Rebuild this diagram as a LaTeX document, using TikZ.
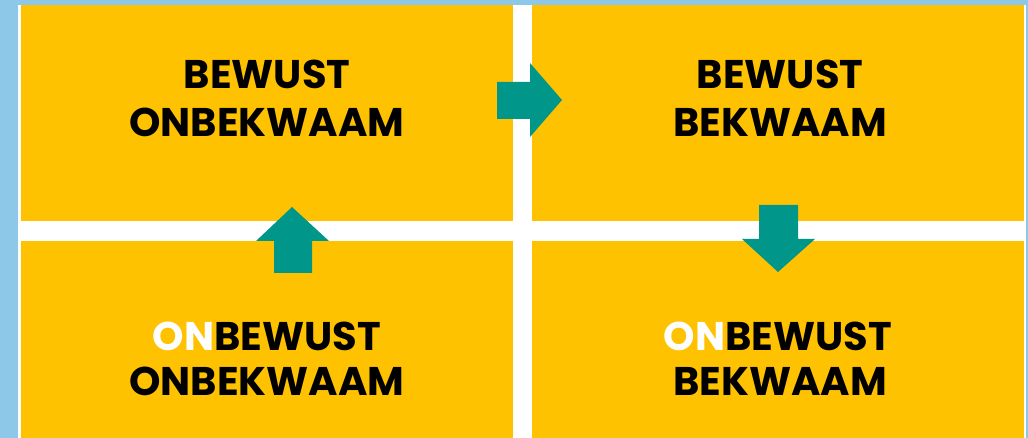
\documentclass[tikz,border=0pt]{standalone}
\usepackage{fontspec}
\setmainfont{Poppins}[BoldFont=* Bold]
\definecolor{bgblue}{HTML}{8DC8E8}
\definecolor{panelyellow}{HTML}{FFC200}
\definecolor{arrowteal}{HTML}{00968A}
\tikzset{
  panel/.style={fill=panelyellow, draw=none},
  lbl/.style={anchor=base, inner sep=0pt, font=\fontsize{40}{40}\selectfont\bfseries, text=black},
  arr/.style={fill=arrowteal, draw=none}
}
\begin{document}
\begin{tikzpicture}[x=1pt,y=-1pt]
\fill[bgblue] (0,0) rectangle (1028,438);
\useasboundingbox (0,0) rectangle (1028,438);
\fill[white] (18,5) rectangle (1026,438);
% panels
\fill[panel] (20.5,5) rectangle (513,221) coordinate (tlc);
\fill[panel] (532,5) rectangle (1023.5,221);
\fill[panel] (20.5,241) rectangle (513,438);
\fill[panel] (532,241) rectangle (1023.5,438);
% texts
\node[lbl] (tl1) at (267,89) {BEWUST};
\node[lbl] (tl2) at (267,137) {ONBEKWAAM};
\node[lbl] (tr1) at (780,89) {BEWUST};
\node[lbl] (tr2) at (780,137) {BEKWAAM};
\node[lbl] (bl1) at (267,350) {\textcolor{white}{ON}BEWUST};
\node[lbl] (bl2) at (267,395) {ONBEKWAAM};
\node[lbl] (br1) at (778,350) {\textcolor{white}{ON}BEWUST};
\node[lbl] (br2) at (780,395) {BEKWAAM};
% arrows
\fill[arr] (497,82) -- (530,82) -- (530,63) -- (562,100) -- (530,137) -- (530,119) -- (497,119) -- cycle;
\fill[arr] (759,205) -- (798,205) -- (798,239) -- (815,239) -- (778,272) -- (742,239) -- (759,239) -- cycle;
\fill[arr] (274,273) -- (312,273) -- (312,241) -- (329,241) -- (292,207) -- (256,241) -- (274,241) -- cycle;
\end{tikzpicture}
\end{document}
